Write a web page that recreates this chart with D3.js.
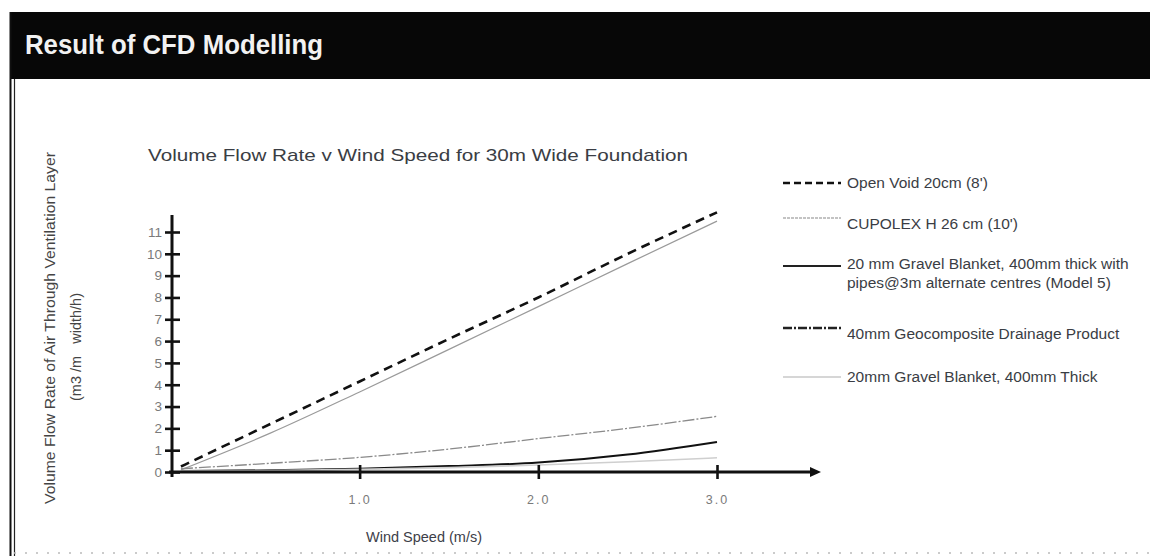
<!DOCTYPE html>
<html>
<head>
<meta charset="utf-8">
<script src="https://cdn.jsdelivr.net/npm/d3@7"></script>
<style>
  body { margin: 0; background: #fff; }
  svg { display: block; }
  text { font-family: "Liberation Sans", Arial, sans-serif; }
</style>
</head>
<body>
<div id="chart"></div>
<script>
// wind speed (m/s) sample points
const windSpeed = [0, 0.5, 1, 1.5, 2, 2.5, 3]

const openVoid    = [0.25, 2.2, 4.15, 6.1, 8.0, 10.0, 11.9]
const cupolex     = [0.1, 1.78, 3.67, 5.62, 7.58, 9.55, 11.5]
const gravelPipes = [0.05, 0.08, 0.15, 0.27, 0.43, 0.8, 1.38]
const geocomp     = [0.15, 0.4, 0.67, 1.05, 1.53, 2.0, 2.55]
const gravel      = [0.05, 0.07, 0.12, 0.2, 0.32, 0.47, 0.65]

const seriesNames = [
  "Open Void 20cm (8')",
  "CUPOLEX H 26 cm (10')",
  "20 mm Gravel Blanket, 400mm thick with|pipes@3m alternate centres (Model 5)",
  "40mm Geocomposite Drainage Product",
  "20mm Gravel Blanket, 400mm Thick"
]
const seriesValues = [openVoid, cupolex, gravelPipes, geocomp, gravel]

const yTicks = d3.range(0, 12)
const xTicks = [1, 2, 3]

// line looks: chart line and legend swatch (the scan draws them a bit differently)
const styles = [
  { stroke: "#111", width: 2.6, dash: "9,6", lStroke: "#111", lWidth: 2.4, lDash: "7,4", dy: 5 },
  { stroke: "#9a9a9a", width: 1.2, dash: null, lStroke: "#888", lWidth: 1.2, lDash: "3,1", dy: 11 },
  { stroke: "#111", width: 2, dash: null, lStroke: "#222", lWidth: 1.8, lDash: null, dy: 3 },
  { stroke: "#8a8a8a", width: 1.3, dash: "12,2,2,2", lStroke: "#222", lWidth: 2.6, lDash: "9,2,2,2", dy: 11 },
  { stroke: "#cfcfcf", width: 1.6, dash: null, lStroke: "#c8c8c8", lWidth: 1.4, lDash: null, dy: 5 }
]

const width = 1150, height = 556

const svg = d3.select("#chart").append("svg")
  .attr("width", width)
  .attr("height", height)

// header band
svg.append("rect")
  .attr("x", 10).attr("y", 12)
  .attr("width", width - 10).attr("height", 67)
  .attr("fill", "#070707")

svg.append("text")
  .attr("x", 25).attr("y", 54)
  .attr("fill", "#f2f2f2")
  .attr("font-family", "Lato, 'DejaVu Sans', sans-serif")
  .attr("font-weight", "bold")
  .attr("font-size", 27)
  .attr("textLength", 298)
  .attr("lengthAdjust", "spacingAndGlyphs")
  .text("Result of CFD Modelling")

// double rule down the left side
svg.append("line")
  .attr("x1", 10.5).attr("x2", 10.5).attr("y1", 12).attr("y2", height)
  .attr("stroke", "#111").attr("stroke-width", 2)
svg.append("line")
  .attr("x1", 14.5).attr("x2", 14.5).attr("y1", 79).attr("y2", height)
  .attr("stroke", "#222").attr("stroke-width", 1.2)

// faint dotted edge at the bottom of the scan
svg.append("line")
  .attr("x1", 14).attr("x2", width).attr("y1", 553).attr("y2", 553)
  .attr("stroke", "#bbb").attr("stroke-width", 1.5)
  .attr("stroke-dasharray", "2,9")

const x = d3.scaleLinear().domain([-0.05, 3]).range([172, 717])
const y = d3.scaleLinear().domain([0, 11]).range([472, 232])

// chart title
svg.append("text")
  .attr("x", 418).attr("y", 161)
  .attr("text-anchor", "middle")
  .attr("fill", "#3a3d44")
  .attr("font-size", 17)
  .attr("textLength", 540)
  .attr("lengthAdjust", "spacingAndGlyphs")
  .text("Volume Flow Rate v Wind Speed for 30m Wide Foundation")

// series lines
const line = d3.line()
  .x((d, i) => x(windSpeed[i]))
  .y(d => y(d))
  .curve(d3.curveMonotoneX)

svg.append("g")
  .selectAll("path")
  .data(seriesValues)
  .join("path")
    .attr("fill", "none")
    .attr("stroke", (d, i) => styles[i].stroke)
    .attr("stroke-width", (d, i) => styles[i].width)
    .attr("stroke-dasharray", (d, i) => styles[i].dash)
    .attr("d", line)

// y axis
const yAxis = svg.append("g")
  .attr("transform", `translate(${x(-0.05)},0)`)
  .call(d3.axisLeft(y).tickValues(yTicks).tickSize(7).tickSizeOuter(0).tickFormat(d3.format("d")))
yAxis.select(".domain").remove()
yAxis.selectAll(".tick line")
  .attr("x2", 8).attr("x1", -7)
  .attr("stroke", "#111").attr("stroke-width", 2.6)
yAxis.selectAll(".tick text")
  .attr("x", -10)
  .attr("fill", "#7a7a7a")
  .attr("font-size", 13.5)
  .attr("font-family", "'Liberation Sans', sans-serif")
yAxis.append("line")
  .attr("y1", y(0) + 5).attr("y2", y(11.78))
  .attr("stroke", "#111").attr("stroke-width", 3)

// x axis with arrow
const xAxis = svg.append("g")
  .attr("transform", `translate(0,${y(0)})`)
  .call(d3.axisBottom(x).tickValues(xTicks).tickSize(7).tickSizeOuter(0).tickFormat(d3.format(".1f")))
xAxis.select(".domain").remove()
xAxis.selectAll(".tick line")
  .attr("y1", -7).attr("y2", 7)
  .attr("stroke", "#111").attr("stroke-width", 2.6)
xAxis.selectAll(".tick text")
  .attr("y", 23)
  .attr("fill", "#7a7a7a")
  .attr("font-size", 12.5)
  .attr("letter-spacing", 2)
  .attr("font-family", "'Liberation Sans', sans-serif")
xAxis.append("line")
  .attr("x1", x(-0.05) - 3).attr("x2", 812)
  .attr("stroke", "#111").attr("stroke-width", 3)
xAxis.append("path")
  .attr("d", "M810,-5L821,0L810,5Z")
  .attr("fill", "#111")

// axis titles
svg.append("text")
  .attr("transform", "translate(55,328) rotate(-90)")
  .attr("text-anchor", "middle")
  .attr("fill", "#444")
  .attr("font-size", 15)
  .attr("textLength", 352)
  .attr("lengthAdjust", "spacingAndGlyphs")
  .text("Volume Flow Rate of Air Through Ventilation Layer")
svg.append("text")
  .attr("transform", "translate(81,347) rotate(-90)")
  .attr("text-anchor", "middle")
  .attr("fill", "#444")
  .attr("font-size", 14.5)
  .style("white-space", "pre")
  .text("(m3 /m   width/h)")

svg.append("text")
  .attr("x", 424).attr("y", 542)
  .attr("text-anchor", "middle")
  .attr("fill", "#3d4048")
  .attr("font-size", 14.5)
  .text("Wind Speed (m/s)")

// legend
const legendY = [183, 218, 266, 328, 377]
const legend = svg.append("g")
  .selectAll("g")
  .data(seriesNames)
  .join("g")
    .attr("transform", (d, i) => `translate(783,${legendY[i]})`)

legend.append("line")
  .attr("x1", 0).attr("x2", 58)
  .attr("stroke", (d, i) => styles[i].lStroke)
  .attr("stroke-width", (d, i) => styles[i].lWidth)
  .attr("stroke-dasharray", (d, i) => styles[i].lDash)

legend.append("text")
  .attr("x", 64)
  .attr("y", (d, i) => styles[i].dy)
  .attr("fill", "#3a3d44")
  .attr("font-size", 15.5)
  .selectAll("tspan")
  .data(d => d.split("|"))
  .join("tspan")
    .attr("x", 64)
    .attr("dy", (d, i) => i === 0 ? 0 : 19)
    .text(d => d)
</script>
</body>
</html>
